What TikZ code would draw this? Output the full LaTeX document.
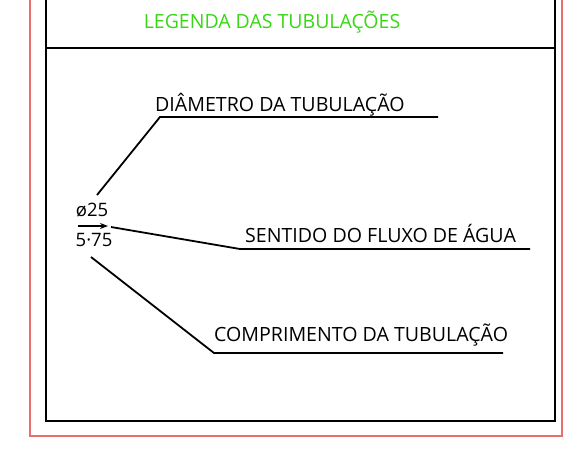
\documentclass[tikz,border=0pt]{standalone}
\usepackage{fontspec}
\setmainfont{Open Sans}
\usetikzlibrary{arrows.meta}
\definecolor{legendgreen}{RGB}{55,215,20}
\definecolor{framered}{RGB}{235,110,110}

\begin{document}
\begin{tikzpicture}[x=1pt,y=-1pt,
    label/.style={anchor=base west,inner sep=0pt,font=\fontsize{19.6}{19.6}\selectfont},
    tag/.style={inner sep=0pt,font=\fontsize{18.5}{18.5}\selectfont},
    lead/.style={line width=1.8pt}]
  \useasboundingbox (0,0) rectangle (580,460);
  % frames
  \draw[framered,line width=1.5pt] (30,-2) -- (30,436) -- (562,436) -- (562,-2);
  \draw[line width=1.8pt] (46,-2) -- (46,421) -- (555,421) -- (555,-2);
  \draw[line width=1.8pt] (46,48) -- (555,48);
  \node[legendgreen,font=\fontsize{19.5}{19.5}\selectfont] (title) at (272,22) {LEGENDA DAS TUBULAÇÕES};

  % symbol
  \node[tag] (diam) at (92,210) {ø25};
  \node[tag] (len) at (94,240) {5·75};
  \coordinate (flowA) at (78,226);
  \coordinate (flowB) at (108,226);
  \draw[lead,-{Stealth[length=8pt,width=6pt]}] (flowA) -- (flowB);

  % diameter
  \node[label] (diamtext) at (155,111) {DIÂMETRO DA TUBULAÇÃO};
  \coordinate (d1) at (97,195);
  \coordinate (d2) at (160,117);
  \coordinate (d3) at (438,117);
  \draw[lead] (d1) -- (d2) -- (d3);

  % flow
  \node[label] (flowtext) at (245,242) {SENTIDO DO FLUXO DE ÁGUA};
  \coordinate (f1) at (111,227);
  \coordinate (f2) at (240,249);
  \coordinate (f3) at (530,249);
  \draw[lead] (f1) -- (f2) -- (f3);

  % length
  \node[label] (lentext) at (214,341) {COMPRIMENTO DA TUBULAÇÃO};
  \coordinate (c1) at (91,257);
  \coordinate (c2) at (214,353);
  \coordinate (c3) at (503,353);
  \draw[lead] (c1) -- (c2) -- (c3);
\end{tikzpicture}
\end{document}
